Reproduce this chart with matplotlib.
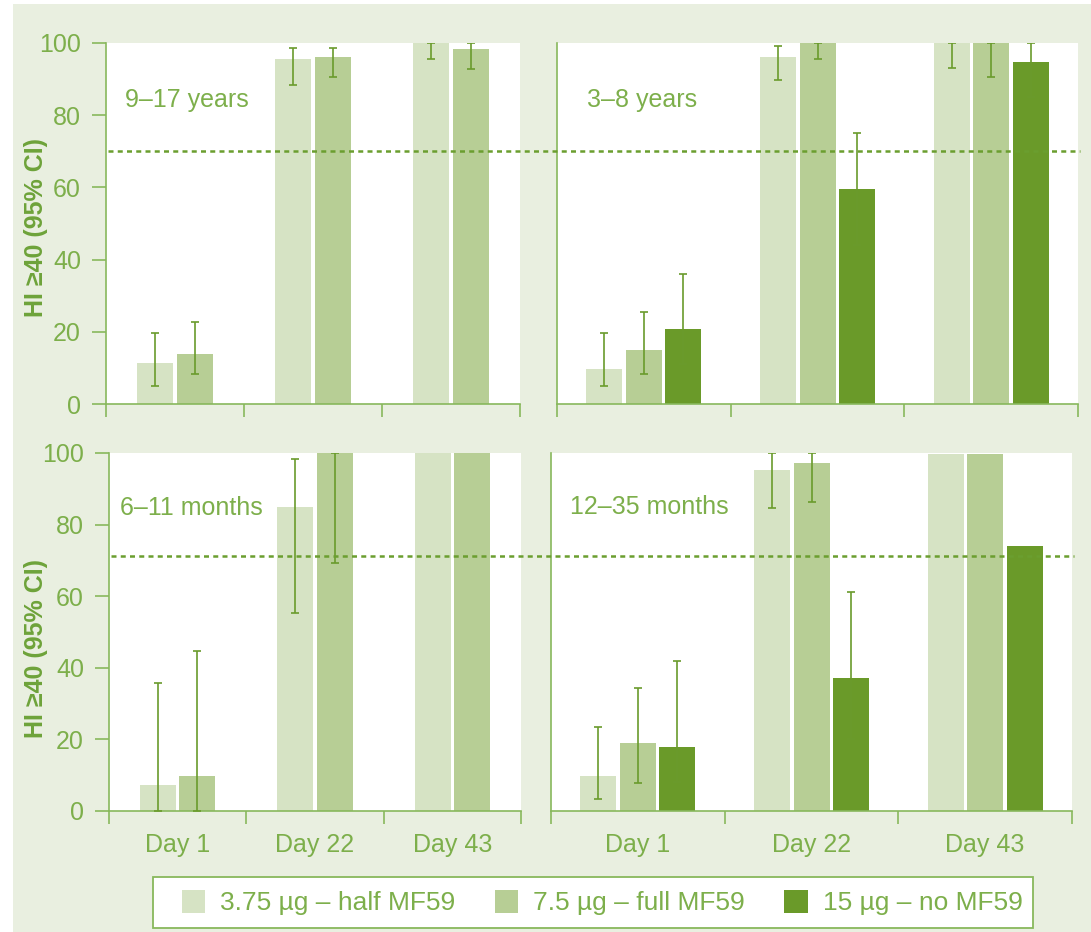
import matplotlib.pyplot as plt
import numpy as np
from matplotlib.patches import Patch, Rectangle
from matplotlib.lines import Line2D
from matplotlib import transforms

plt.rcParams['font.family'] = ['Liberation Sans', 'DejaVu Sans']

# ---- data ----
days = ['Day 1', 'Day 22', 'Day 43']
series = ['3.75 µg – half MF59', '7.5 µg – full MF59', '15 µg – no MF59']
titles = ['9–17 years', '3–8 years', '6–11 months', '12–35 months']

# % with HI >= 40, one list per series (None = not tested)
val_9_17 = [[11.4, 95.7, 100], [13.9, 96.1, 98.4], None]
lo_9_17 = [[4.9, 88.4, 95.6], [8.4, 90.7, 92.8], None]
hi_9_17 = [[19.7, 98.6, 100], [22.6, 98.6, 100], None]

val_3_8 = [[9.7, 96.1, 100], [15.0, 100, 100], [20.8, 59.6, 94.7]]
lo_3_8 = [[4.9, 89.8, 93.0], [8.4, 95.6, 90.7], [11.0, 44.0, 85.0]]
hi_3_8 = [[19.7, 99.2, 100], [25.4, 100, 100], [36.1, 75.2, 100]]

val_6_11 = [[7.4, 84.8, 100], [9.7, 100, 100], None]
lo_6_11 = [[0.0, 55.3, np.nan], [0.0, 69.2, np.nan], None]
hi_6_11 = [[35.8, 98.2, np.nan], [44.8, 100, np.nan], None]

val_12_35 = [[9.7, 95.3, 99.6], [19.0, 97.2, 99.6], [17.9, 37.2, 74.0]]
lo_12_35 = [[3.4, 84.7, np.nan], [7.7, 86.2, np.nan], [8.0, 20.0, np.nan]]
hi_12_35 = [[23.6, 100, np.nan], [34.3, 100, np.nan], [41.8, 61.1, np.nan]]

# protective threshold line, top row / bottom row
threshold = [70, 71.3]

panels = [(val_9_17, lo_9_17, hi_9_17), (val_3_8, lo_3_8, hi_3_8),
          (val_6_11, lo_6_11, hi_6_11), (val_12_35, lo_12_35, hi_12_35)]

# ---- style ----
BG = '#E9EFE0'
bar_colors = ['#D6E3C4', '#B7CE95', '#6A9A29']
TXT = '#7DAF4B'
SPINE = '#88B85C'
ERR = '#6A9B2C'
LINE = '#6B9E2F'

W, H = 1091, 932
fig = plt.figure(figsize=(W / 100, H / 100), dpi=100, facecolor='white')
fig.add_artist(Rectangle((13 / W, 0), 1, 1 - 4 / H, transform=fig.transFigure,
                         facecolor=BG, edgecolor='none', zorder=-10))

# axes boxes in pixels (x0, y0, x1, y1), top-left origin
boxes = [(106, 43, 520, 404), (557, 43, 1078, 404),
         (109, 453, 521, 811), (551, 453, 1072, 811)]
title_pos = [(0.046, 0.842), (0.0585, 0.842), (0.0255, 0.846), (0.0365, 0.85)]

bar_px, step_px = 36, 39.5
x = np.arange(len(days))
axes = []
for i, (x0, y0, x1, y1) in enumerate(boxes):
    ax = fig.add_axes([x0 / W, 1 - y1 / H, (x1 - x0) / W, (y1 - y0) / H])
    axes.append(ax)
    vals, los, his = panels[i]
    unit_px = (x1 - x0) / len(days)
    bw, step = bar_px / unit_px, step_px / unit_px
    present = [k for k in range(3) if vals[k] is not None]
    offs = (np.arange(len(present)) - (len(present) - 1) / 2) * step
    for off, k in zip(offs, present):
        v = np.array(vals[k], dtype=float)
        lo = np.array(los[k], dtype=float)
        hi = np.array(his[k], dtype=float)
        ax.bar(x + off, v, width=bw, color=bar_colors[k], zorder=2)
        m = ~np.isnan(lo)
        ax.errorbar((x + off)[m], v[m], yerr=[v[m] - lo[m], hi[m] - v[m]], fmt='none',
                    ecolor=ERR, elinewidth=1.2, capsize=3.2, capthick=1.2, zorder=3)

    ax.set_xlim(-0.5, 2.5)
    ax.set_ylim(0, 100)
    for s in ['top', 'right']:
        ax.spines[s].set_visible(False)
    for s in ['left', 'bottom']:
        ax.spines[s].set_color(SPINE)
        ax.spines[s].set_linewidth(1.2)

    ax.set_xticks([-0.5, 0.5, 1.5, 2.5])
    ax.set_xticklabels([])
    ax.tick_params(axis='x', which='major', length=9.5, width=1.2, color=SPINE)
    ax.set_xticks(x, minor=True)
    if i >= 2:
        ax.set_xticklabels(days, minor=True)
    ax.tick_params(axis='x', which='minor', length=0, pad=16, labelsize=18, labelcolor=TXT)

    ax.set_yticks(range(0, 101, 20))
    if i % 2 == 0:
        ax.tick_params(axis='y', length=10, width=1.2, color=SPINE, pad=8,
                       labelsize=18, labelcolor=TXT)
        ax.set_ylabel('HI ≥40 (95% CI)', fontsize=18, fontweight='bold', color='#6EA33A')
        ax.yaxis.set_label_coords(-0.141 if i == 0 else -0.149, 0.49 if i == 0 else 0.455)
    else:
        ax.tick_params(axis='y', length=0, labelleft=False)

    ax.text(title_pos[i][0], title_pos[i][1], titles[i], transform=ax.transAxes,
            fontsize=18, color=TXT, ha='left', va='center', zorder=5)

# dotted threshold lines running across both panels of a row
for row in range(2):
    left_ax, right_ax = axes[2 * row], axes[2 * row + 1]
    tr = transforms.blended_transform_factory(fig.transFigure, left_ax.transData)
    xs = [left_ax.get_position().x0 + 2 / W, right_ax.get_position().x1 + 2 / W]
    fig.add_artist(Line2D(xs, [threshold[row]] * 2, transform=tr, color=LINE,
                          lw=1.8, linestyle=(0, (2, 1.7)), zorder=5))

# legend box drawn separately, entries placed inside it
fig.add_artist(Rectangle((153 / W, 1 - 928 / H), (1033 - 153) / W, 51 / H,
                         transform=fig.transFigure, facecolor='white',
                         edgecolor=SPINE, lw=1.3, zorder=4))
handles = [Patch(facecolor=c, edgecolor='none') for c in bar_colors]
leg = fig.legend(handles, series, loc='center', bbox_to_anchor=(602 / W, 1 - 902.5 / H),
                 ncol=3, fontsize=19, labelcolor=TXT, frameon=False,
                 handlelength=0.9, handleheight=1.0, handletextpad=0.55,
                 columnspacing=1.5, borderpad=0.3)
leg.set_zorder(6)

fig.savefig('out.png', dpi=100, facecolor=fig.get_facecolor())
